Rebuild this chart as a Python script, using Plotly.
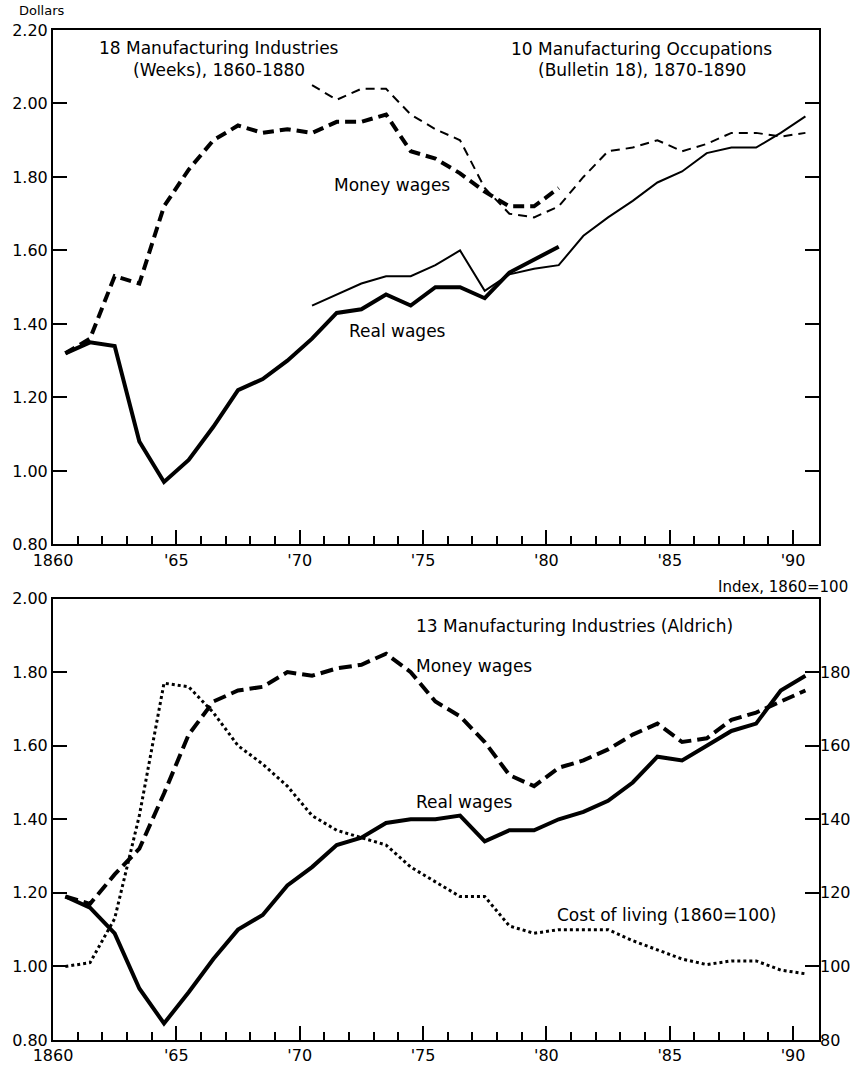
import plotly.graph_objects as go

# ---------------- data ----------------
years_weeks = list(range(1860, 1881))
weeks_money = [1.32, 1.36, 1.53, 1.51, 1.72, 1.82, 1.90, 1.94, 1.92, 1.93, 1.92,
               1.95, 1.95, 1.97, 1.87, 1.85, 1.81, 1.76, 1.72, 1.72, 1.77]
weeks_real = [1.32, 1.35, 1.34, 1.08, 0.97, 1.03, 1.12, 1.22, 1.25, 1.30, 1.36,
              1.43, 1.44, 1.48, 1.45, 1.50, 1.50, 1.47, 1.54, 1.575, 1.61]

years_bul = list(range(1870, 1891))
bul_money = [2.05, 2.01, 2.04, 2.04, 1.97, 1.93, 1.90, 1.77, 1.70, 1.69, 1.72,
             1.80, 1.87, 1.88, 1.90, 1.87, 1.89, 1.92, 1.92, 1.91, 1.92]
bul_real = [1.45, 1.48, 1.51, 1.53, 1.53, 1.56, 1.60, 1.49, 1.535, 1.55, 1.56,
            1.64, 1.69, 1.735, 1.785, 1.815, 1.865, 1.88, 1.88, 1.92, 1.965]

years_ald = list(range(1860, 1891))
ald_money = [1.19, 1.17, 1.25, 1.32, 1.47, 1.63, 1.72, 1.75, 1.76, 1.80, 1.79,
             1.81, 1.82, 1.85, 1.80, 1.72, 1.68, 1.61, 1.52, 1.49, 1.54,
             1.56, 1.59, 1.63, 1.66, 1.61, 1.62, 1.67, 1.69, 1.72, 1.75]
ald_real = [1.19, 1.16, 1.09, 0.94, 0.845, 0.93, 1.02, 1.10, 1.14, 1.22, 1.27,
            1.33, 1.35, 1.39, 1.40, 1.40, 1.41, 1.34, 1.37, 1.37, 1.40,
            1.42, 1.45, 1.50, 1.57, 1.56, 1.60, 1.64, 1.66, 1.75, 1.79]
cost_living = [100, 101, 113, 141, 177, 176, 169, 160, 155, 149, 141,
               137, 135, 133, 127, 123, 119, 119, 111, 109, 110,
               110, 110, 107, 104.5, 102, 100.5, 101.5, 101.5, 99, 98]

x_tickvals = [1860, 1865, 1870, 1875, 1880, 1885, 1890]
x_ticktext = ["1860", "'65", "'70", "'75", "'80", "'85", "'90"]
top_yticks = [0.80, 1.00, 1.20, 1.40, 1.60, 1.80, 2.00, 2.20]
bot_yticks = [0.80, 1.00, 1.20, 1.40, 1.60, 1.80, 2.00]
idx_ticks = [80, 100, 120, 140, 160, 180]


def mid(years):
    # values are plotted at the middle of each year
    return [y + 0.5 for y in years]


FONT = "DejaVu Sans"
BLACK = "black"
TICKFONT = dict(family=FONT, size=16, color=BLACK)

fig = go.Figure()

# top panel
fig.add_trace(go.Scatter(x=mid(years_weeks), y=weeks_money, mode="lines",
                         line=dict(color=BLACK, width=4, dash="11px,6px"),
                         xaxis="x", yaxis="y"))
fig.add_trace(go.Scatter(x=mid(years_weeks), y=weeks_real, mode="lines",
                         line=dict(color=BLACK, width=4),
                         xaxis="x", yaxis="y"))
fig.add_trace(go.Scatter(x=mid(years_bul), y=bul_money, mode="lines",
                         line=dict(color=BLACK, width=2, dash="9px,6px"),
                         xaxis="x", yaxis="y"))
fig.add_trace(go.Scatter(x=mid(years_bul), y=bul_real, mode="lines",
                         line=dict(color=BLACK, width=2),
                         xaxis="x", yaxis="y"))

# bottom panel
fig.add_trace(go.Scatter(x=mid(years_ald), y=ald_money, mode="lines",
                         line=dict(color=BLACK, width=4, dash="13px,6px"),
                         xaxis="x2", yaxis="y2"))
fig.add_trace(go.Scatter(x=mid(years_ald), y=ald_real, mode="lines",
                         line=dict(color=BLACK, width=4),
                         xaxis="x2", yaxis="y2"))
fig.add_trace(go.Scatter(x=mid(years_ald), y=cost_living, mode="lines",
                         line=dict(color=BLACK, width=3, dash="3px,3px"),
                         xaxis="x2", yaxis="y3"))

xcommon = dict(range=[1860, 1891.05], tickmode="array", tickvals=x_tickvals,
               ticktext=x_ticktext, ticks="inside", ticklen=14, tickwidth=2,
               tickcolor=BLACK, showline=True, linewidth=2, linecolor=BLACK,
               mirror=True, showgrid=False, zeroline=False,
               minor=dict(tickmode="array", tickvals=list(range(1861, 1891)),
                          ticks="inside", ticklen=8, tickwidth=2,
                          tickcolor=BLACK, showgrid=False),
               tickfont=TICKFONT)

fig.update_layout(
    width=864, height=1077,
    margin=dict(l=50, r=45, t=30, b=22),
    paper_bgcolor="white", plot_bgcolor="white",
    showlegend=False, hovermode=False,
    font=dict(family=FONT, size=16, color=BLACK),
    xaxis=dict(domain=[0, 1], anchor="y", **xcommon),
    yaxis=dict(domain=[0.4907, 1.0], anchor="x", range=[0.80, 2.20],
               tickmode="array", tickvals=top_yticks,
               ticktext=[f"{v:.2f}" for v in top_yticks],
               ticks="inside", ticklen=14, tickwidth=2, tickcolor=BLACK,
               showline=True, linewidth=2, linecolor=BLACK, mirror="ticks",
               showgrid=False, zeroline=False, tickfont=TICKFONT),
    xaxis2=dict(domain=[0, 1], anchor="y2", **xcommon),
    yaxis2=dict(domain=[0.0, 0.4371], anchor="x2", range=[0.80, 2.00],
                tickmode="array", tickvals=bot_yticks,
                ticktext=[f"{v:.2f}" for v in bot_yticks],
                ticks="inside", ticklen=14, tickwidth=2, tickcolor=BLACK,
                showline=True, linewidth=2, linecolor=BLACK, mirror=True,
                showgrid=False, zeroline=False, tickfont=TICKFONT),
    yaxis3=dict(overlaying="y2", side="right", anchor="x2", range=[80, 200],
                tickmode="array", tickvals=idx_ticks,
                ticktext=[str(v) for v in idx_ticks],
                ticks="inside", ticklen=14, tickwidth=2, tickcolor=BLACK,
                showline=False, showgrid=False, zeroline=False,
                tickfont=TICKFONT),
)

ann = []


def add(text, x, y, xref, yref, xanchor="left", size=17, yanchor="middle"):
    ann.append(dict(text=text, x=x, y=y, xref=xref, yref=yref,
                    xanchor=xanchor, yanchor=yanchor, showarrow=False,
                    font=dict(family=FONT, size=size, color=BLACK)))


add("Dollars", 0.0169, 1.0283, "paper", "paper", "right", size=13,
    yanchor="top")
add("18 Manufacturing Industries", 1866.74, 2.151, "x", "y", "center")
add("(Weeks), 1860-1880", 1866.74, 2.090, "x", "y", "center")
add("10 Manufacturing Occupations", 1883.86, 2.149, "x", "y", "center")
add("(Bulletin 18), 1870-1890", 1883.86, 2.092, "x", "y", "center")
add("Money wages", 1871.30, 1.779, "x", "y")
add("Real wages", 1871.91, 1.382, "x", "y")

add("13 Manufacturing Industries (Aldrich)", 1874.65, 1.924, "x2", "y2")
add("Money wages", 1874.65, 1.817, "x2", "y2")
add("Real wages", 1874.65, 1.448, "x2", "y2")
add("Cost of living (1860=100)", 1880.35, 1.140, "x2", "y2")
add("Index, 1860=100", 1.0403, 0.4488, "paper", "paper", "right", size=15)

fig.update_layout(annotations=ann)

# remove the browser's default 8px page margin so the figure fills the window
fig.write_html("out.html",
               config={"displayModeBar": False, "staticPlot": True},
               post_script="document.body.style.margin='0';"
                           "document.body.style.overflow='hidden';")
